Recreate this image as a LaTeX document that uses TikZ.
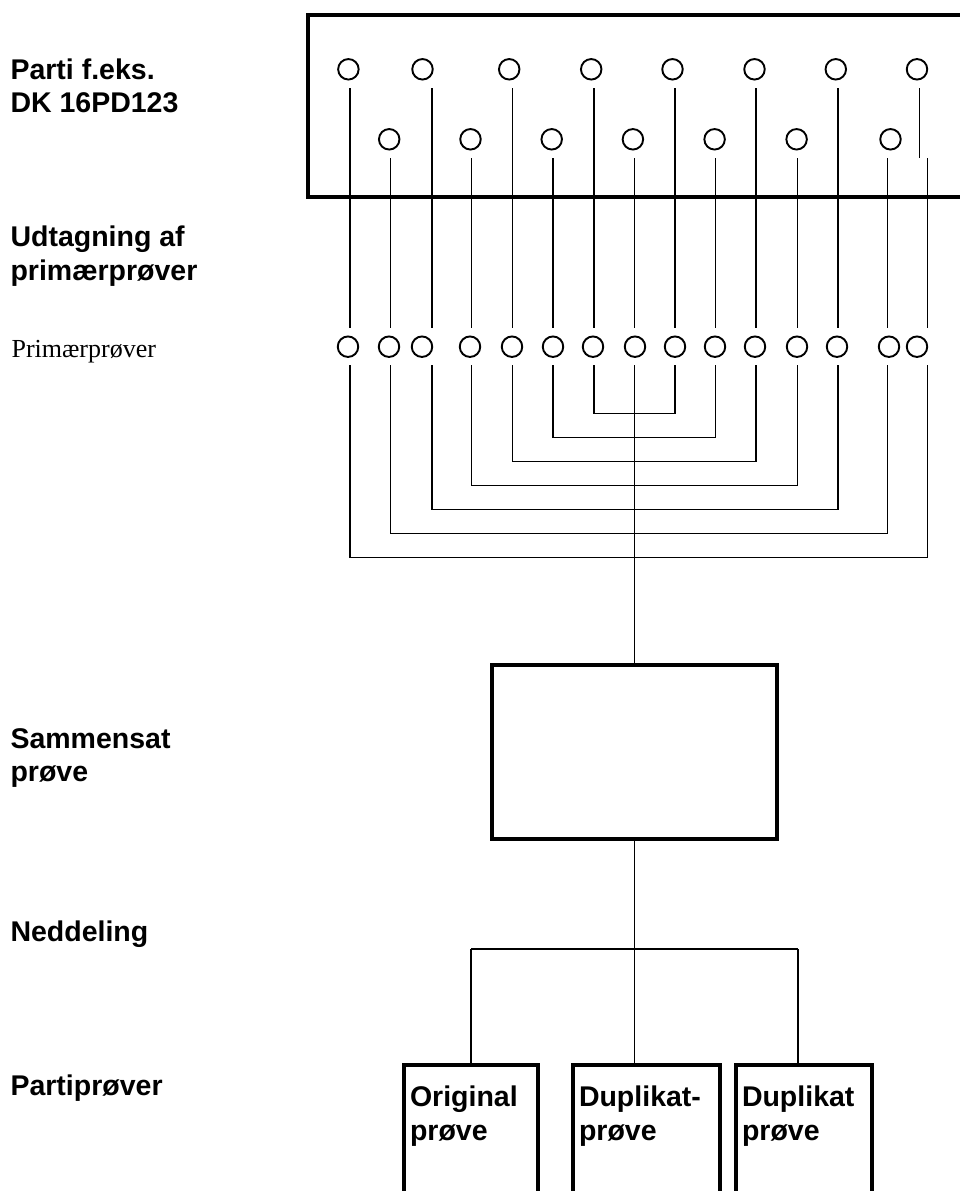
\documentclass[tikz,border=0pt]{standalone}
\usepackage{fontspec}
\newfontfamily\arialfont{Liberation Sans}
\newfontfamily\timesfont{Liberation Serif}
\begin{document}
\begin{tikzpicture}[
    x = 1pt, y = -1pt,
    line width = 1.1pt,
    smp/.style = {draw, circle, minimum size = 20.5pt, inner sep = 0pt, line width = 1.9pt, outer sep = 8.5pt},
    bx/.style = {draw, line width = 3.2pt, outer sep = 0pt},
    pbx/.style = {bx, anchor = north west, align = left, inner xsep = 6pt, inner ysep = 7pt,
      text height = 34.7pt, text depth = 150pt, font = \arialfont\bfseries\fontsize{28.5}{33.5}\selectfont},
    lbl/.style = {anchor = base west, align = left, inner sep = 0pt, font = \arialfont\bfseries\fontsize{28.5}{33.5}\selectfont},
  ]
  \useasboundingbox (0,0) rectangle (960,1191);
  \clip (0,0) rectangle (960,1191);

  % labels on the left (base = last line)
  \node[lbl] (lot-lbl) at (10,112.5) {Parti f.eks.\\DK 16PD123};
  \node[lbl] (take-lbl) at (10,280) {Udtagning af\\primærprøver};
  \node[lbl, font = \timesfont\fontsize{26}{31}\selectfont] (prim-lbl) at (11,357.7) {Primærprøver};
  \node[lbl] (mix-lbl) at (10,781.7) {Sammensat\\prøve};
  \node[lbl] (div-lbl) at (10,941.7) {Neddeling};
  \node[lbl] (part-lbl) at (10,1095) {Partiprøver};

  % the lot
  \node[bx, anchor = north west, minimum width = 700pt, minimum height = 182pt] (lot) at (308,15) {};
  \foreach \k/\x in {1/348.4, 3/422.5, 5/509.2, 7/591.2, 9/672.5, 11/754.5, 13/835.8, 15/917}
    \node[smp] (t\k) at (\x,69.3) {};
  \foreach \k/\x in {2/389.2, 4/470.5, 6/551.7, 8/632.9, 10/714.6, 12/796.6, 14/890.5}
    \node[smp] (t\k) at (\x,139.3) {};

  % primary samples
  \foreach \x [count=\k] in {348, 389, 422, 470, 512, 553, 593, 635, 675, 715, 755, 797, 837, 889, 917}
    \node[smp] (p\k) at (\x,346.7) {};

  \foreach \x [count=\k] in {350, 390.5, 432, 471.3, 512.5, 553, 594, 634.5, 675, 715.4, 756, 797.5, 838, 887.5, 927.5}
    \coordinate (l\k) at (\x,0);
  \coordinate (lj) at (919.5,0);

  \foreach \k in {1,...,14}
    \draw (t\k.south -| l\k) -- (p\k.north -| l\k);
  \draw (t15.south -| lj) -- (t14.south -| lj);
  \draw (t14.south -| l15) -- (p15.north -| l15);

  \foreach \a/\b [count=\k from 0] in {7/9, 6/10, 5/11, 4/12, 3/13, 2/14, 1/15}
    \draw (p\a.south -| l\a) -- ++(0,47.6+24*\k) -| (p\b.south -| l\b);

  % composite and lot samples
  \node[bx, minimum width = 285pt, minimum height = 174pt] (mix) at (634.5,752) {};
  \draw (p8.south -| l8) -- (mix.north);

  \node[pbx, text width = 122pt] (orig) at (404,1065) {Original\\prøve};
  \node[pbx, text width = 135pt] (dup1) at (573,1065) {Duplikat-\\prøve};
  \node[pbx, text width = 124pt] (dup2) at (736,1065) {Duplikat\\prøve};

  \coordinate (jL) at (471,949);
  \coordinate (jR) at (798,949);
  \draw (mix.south) -- (mix.south |- dup1.north);
  \draw (jL) -- (jR);
  \draw (jL) -- (jL |- orig.north);
  \draw (jR) -- (jR |- dup2.north);
\end{tikzpicture}
\end{document}
